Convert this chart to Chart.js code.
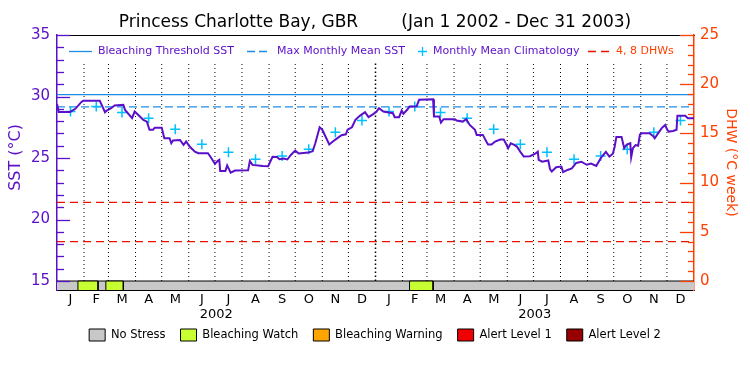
<!DOCTYPE html>
<html>
<head>
<meta charset="utf-8">
<script src="https://cdn.jsdelivr.net/npm/chart.js@4.4.1/dist/chart.umd.min.js"></script>
<style>
  html, body { margin: 0; padding: 0; background: #ffffff; }
  #wrap { width: 750px; height: 375px; }
</style>
</head>
<body>
<div id="wrap"><canvas id="chartSst" width="750" height="375"></canvas></div>
<script>
// ---- data ----
const monthLetters = ['J', 'F', 'M', 'A', 'M', 'J', 'J', 'A', 'S', 'O', 'N', 'D'];
const monthLengths = [31, 28, 31, 30, 31, 30, 31, 31, 30, 31, 30, 31];
const yearLabels = ['2002', '2003'];

// day number counted from Jan 1 2002
const sstDays = [0, 2, 15, 21, 28, 30, 49, 52, 55, 57, 62, 66, 76, 78, 86, 89, 95, 99, 103, 106,
  110, 112, 120, 123, 129, 131, 133, 141, 145, 148, 152, 158, 162, 173, 177, 181, 184, 186, 187, 193,
  195, 199, 204, 219, 221, 224, 236, 242, 247, 252, 255, 260, 264, 268, 273, 277, 288, 293, 296, 301,
  304, 312, 319, 326, 331, 333, 338, 342, 347, 353, 357, 362, 366, 369, 374, 385, 387, 392, 395, 397,
  401, 404, 412, 415, 431, 432, 438, 440, 443, 456, 458, 465, 469, 473, 479, 481, 488, 492, 494, 498,
  502, 508, 512, 515, 517, 520, 524, 527, 531, 535, 542, 548, 551, 552, 556, 563, 565, 567, 572, 578,
  580, 585, 590, 595, 601, 607, 612, 618, 624, 629, 633, 637, 639, 641, 647, 650, 653, 657, 658, 660,
  663, 666, 668, 670, 679, 683, 685, 689, 693, 697, 699, 701, 706, 710, 711, 720, 723, 730];
const sstValues = [29.40, 28.75, 28.75, 29.00, 29.56, 29.65, 29.65, 29.20, 28.72, 28.86, 29.05, 29.27, 29.32, 28.91, 28.24, 28.78, 28.37, 28.10, 27.96, 27.29,
  27.29, 27.47, 27.47, 26.61, 26.61, 26.20, 26.42, 26.47, 26.07, 26.34, 25.93, 25.52, 25.39, 25.39, 24.98, 24.52, 24.75, 24.85, 23.95, 23.95,
  24.40, 23.81, 23.98, 24.00, 24.75, 24.44, 24.36, 24.33, 25.10, 25.08, 24.90, 24.95, 24.88, 25.25, 25.60, 25.36, 25.44, 25.55, 26.20, 27.50,
  27.30, 26.10, 26.50, 26.85, 26.93, 27.30, 27.50, 28.10, 28.43, 28.73, 28.32, 28.55, 28.75, 29.05, 28.78, 28.64, 28.32, 28.32, 28.86, 28.60,
  28.90, 29.18, 29.18, 29.73, 29.78, 28.37, 28.37, 27.88, 28.16, 28.16, 28.05, 27.96, 28.16, 27.69, 27.29, 26.88, 26.88, 26.34, 26.10, 26.10,
  26.34, 26.50, 26.50, 26.10, 25.79, 26.20, 26.07, 25.93, 25.50, 25.12, 25.15, 25.35, 25.52, 24.85, 24.70, 24.80, 24.10, 23.90, 24.25, 24.30,
  23.85, 24.03, 24.15, 24.60, 24.70, 24.45, 24.55, 24.36, 25.08, 25.50, 25.12, 25.35, 25.90, 26.70, 26.70, 25.80, 26.10, 26.20, 25.06, 25.80,
  26.05, 26.00, 26.90, 27.02, 27.02, 26.80, 26.61, 27.02, 27.43, 27.69, 27.34, 27.15, 27.20, 27.30, 28.43, 28.43, 28.24, 28.24];

// monthly mean climatology, Jan..Dec
const climatology = [28.78, 29.18, 28.70, 28.24, 27.34, 26.12, 25.47, 24.90, 25.17, 25.72, 27.10, 28.04];
const maxMonthlyMean = 29.15;
const bleachingThreshold = 30.15;
const dhwLevels = [4, 8];

const stressNames = ['No Stress', 'Bleaching Watch', 'Bleaching Warning', 'Alert Level 1', 'Alert Level 2'];
const stressColors = ['#c8c8c8', '#c8ff32', '#ffa500', '#f00000', '#960000'];
// bleaching watch periods (day numbers)
const watchStart = [24, 56, 404];
const watchEnd = [47, 76, 431];

const sstTicks = [15, 20, 25, 30, 35];
const dhwTicks = [0, 5, 10, 15, 20, 25];

// ---- derived ----
const totalDays = 730;
const sstMin = 14.27, sstMax = 35;
const dhwMin = -0.915, dhwMax = 25;
const barTop = 15;
const gridTop = 32.7;

const purple = '#5a0fc8';
const orange = '#ff4000';
const blue = '#1e8ce6';
const cyan = '#00c0ff';
const red = '#ee1100';

const monthStarts = [];
const monthMids = [];
let day = 0;
for (let y = 0; y < yearLabels.length; y++) {
  monthLengths.forEach(len => {
    monthStarts.push(day);
    monthMids.push(day + len / 2);
    day += len;
  });
}
const yearMids = yearLabels.map((_, i) => 365 * i + 182.5);

const sstPoints = sstDays.map((d, i) => ({ x: d, y: sstValues[i] }));
const climPoints = monthMids.map((d, i) => ({ x: d, y: climatology[i % 12] }));

const monthLinePoints = [];
monthStarts.forEach(d => {
  if (d === 0 || d === 365) return;
  monthLinePoints.push({ x: d, y: barTop }, { x: d, y: gridTop }, { x: d, y: null });
});
const dhwLinePoints = [];
dhwLevels.forEach(v => {
  dhwLinePoints.push({ x: 0, y: v }, { x: totalDays, y: v }, { x: totalDays, y: null });
});

const watchSets = watchStart.map((s, i) => ({
  label: 'Bleaching Watch',
  data: [{ x: s, y: sstMin }, { x: s, y: barTop }, { x: watchEnd[i], y: barTop }, { x: watchEnd[i], y: sstMin }],
  yAxisID: 'y',
  fill: { value: sstMin },
  backgroundColor: stressColors[1],
  borderColor: '#000',
  borderWidth: 1,
  pointRadius: 0,
  order: 19
}));

// inward tick marks on both value axes
const innerTicks = {
  id: 'innerTicks',
  afterDatasetsDraw(chart) {
    const ctx = chart.ctx;
    const a = chart.chartArea;
    ctx.save();
    ctx.lineWidth = 1.3;
    const ys = chart.scales.y;
    ctx.strokeStyle = purple;
    for (let v = 15; v <= 35; v++) {
      const p = Math.round(ys.getPixelForValue(v)) + 0.5;
      const len = v % 5 === 0 ? 13 : 7;
      ctx.beginPath(); ctx.moveTo(a.left, p); ctx.lineTo(a.left + len, p); ctx.stroke();
    }
    const ys2 = chart.scales.y2;
    ctx.strokeStyle = orange;
    for (let v = 0; v <= 25; v++) {
      const p = Math.round(ys2.getPixelForValue(v)) + 0.5;
      const len = v % 5 === 0 ? 14 : 6;
      ctx.beginPath(); ctx.moveTo(a.right, p); ctx.lineTo(a.right - len, p); ctx.stroke();
    }
    ctx.restore();
  }
};

// key along the top of the plot
const topKey = {
  id: 'topKey',
  afterDatasetsDraw(chart) {
    const ctx = chart.ctx;
    const a = chart.chartArea;
    const y = a.top + 16.5;
    ctx.save();
    ctx.font = '11px "DejaVu Sans"';
    ctx.textBaseline = 'middle';
    ctx.lineWidth = 1.3;

    ctx.strokeStyle = blue;
    ctx.beginPath(); ctx.moveTo(a.left + 12, y); ctx.lineTo(a.left + 35, y); ctx.stroke();
    ctx.fillStyle = purple;
    ctx.fillText('Bleaching Threshold SST', a.left + 41, y);

    ctx.setLineDash([8, 4]);
    ctx.beginPath(); ctx.moveTo(a.left + 190, y); ctx.lineTo(a.left + 210, y); ctx.stroke();
    ctx.setLineDash([]);
    ctx.fillText('Max Monthly Mean SST', a.left + 220, y);

    ctx.strokeStyle = cyan;
    ctx.beginPath();
    ctx.moveTo(a.left + 361, y); ctx.lineTo(a.left + 370, y);
    ctx.moveTo(a.left + 365.5, y - 4.5); ctx.lineTo(a.left + 365.5, y + 4.5);
    ctx.stroke();
    ctx.fillText('Monthly Mean Climatology', a.left + 376, y);

    ctx.strokeStyle = red;
    ctx.setLineDash([8, 5]);
    ctx.beginPath(); ctx.moveTo(a.left + 531, y); ctx.lineTo(a.left + 555, y); ctx.stroke();
    ctx.setLineDash([]);
    ctx.fillStyle = orange;
    ctx.fillText('4, 8 DHWs', a.left + 559, y);
    ctx.restore();
  }
};

Chart.defaults.font.family = '"DejaVu Sans", sans-serif';

const ctx = document.getElementById('chartSst').getContext('2d');
new Chart(ctx, {
  type: 'line',
  data: {
    datasets: [
      {
        label: 'SST',
        data: sstPoints,
        yAxisID: 'y',
        borderColor: purple,
        borderWidth: 2,
        pointRadius: 0,
        tension: 0,
        order: 1
      },
      {
        label: 'Monthly Mean Climatology',
        data: climPoints,
        yAxisID: 'y',
        showLine: false,
        pointStyle: 'cross',
        pointRadius: 5,
        borderColor: cyan,
        backgroundColor: cyan,
        borderWidth: 1.5,
        order: 2
      },
      {
        label: 'Bleaching Threshold SST',
        data: [{ x: 0, y: bleachingThreshold }, { x: totalDays, y: bleachingThreshold }],
        yAxisID: 'y',
        borderColor: blue,
        borderWidth: 1.3,
        pointRadius: 0,
        order: 3
      },
      {
        label: 'Max Monthly Mean SST',
        data: [{ x: 0, y: maxMonthlyMean }, { x: totalDays, y: maxMonthlyMean }],
        yAxisID: 'y',
        borderColor: blue,
        borderWidth: 1.3,
        borderDash: [8, 4],
        pointRadius: 0,
        order: 4
      },
      {
        label: '4, 8 DHWs',
        data: dhwLinePoints,
        yAxisID: 'y2',
        borderColor: red,
        borderWidth: 1.3,
        borderDash: [8, 5],
        pointRadius: 0,
        spanGaps: false,
        order: 5
      },
      {
        label: 'months',
        data: monthLinePoints,
        yAxisID: 'y',
        borderColor: '#000',
        borderWidth: 1,
        borderDash: [1, 3],
        pointRadius: 0,
        spanGaps: false,
        order: 6
      },
      {
        label: 'year',
        data: [{ x: 365, y: barTop }, { x: 365, y: gridTop }],
        yAxisID: 'y',
        borderColor: '#000',
        borderWidth: 1.5,
        borderDash: [1.5, 2.5],
        pointRadius: 0,
        order: 7
      },
      ...watchSets,
      {
        label: 'No Stress',
        data: [{ x: 0, y: barTop }, { x: totalDays, y: barTop }],
        yAxisID: 'y',
        fill: { value: sstMin },
        backgroundColor: stressColors[0],
        borderColor: '#000',
        borderWidth: 1,
        pointRadius: 0,
        order: 20
      }
    ]
  },
  options: {
    responsive: false,
    animation: false,
    events: [],
    layout: { padding: { left: 0, right: 0, top: 0, bottom: 24 } },
    plugins: {
      title: {
        display: true,
        text: 'Princess Charlotte Bay, GBR        (Jan 1 2002 - Dec 31 2003)',
        color: '#000',
        font: { size: 17, weight: 'normal' },
        padding: { top: 12, bottom: 2.6 }
      },
      legend: {
        display: true,
        position: 'bottom',
        onClick: null,
        labels: {
          boxWidth: 16,
          boxHeight: 12,
          padding: 15,
          color: '#000',
          font: { size: 11.5 },
          generateLabels: () => stressNames.map((t, i) => ({
            text: t,
            fillStyle: stressColors[i],
            strokeStyle: '#000',
            lineWidth: 1,
            hidden: false,
            fontColor: '#000'
          }))
        }
      },
      tooltip: { enabled: false }
    },
    scales: {
      x: {
        type: 'linear',
        position: 'bottom',
        min: 0,
        max: totalDays,
        afterBuildTicks: s => { s.ticks = monthMids.map(v => ({ value: v })); },
        afterFit: s => { s.height = 17; },
        ticks: {
          autoSkip: false,
          maxRotation: 0,
          padding: 2,
          color: '#000',
          font: { size: 13 },
          callback: (v, i) => monthLetters[i % 12]
        },
        grid: { display: false, drawTicks: false },
        border: { display: true, color: '#000', width: 1 }
      },
      xYear: {
        type: 'linear',
        position: 'bottom',
        weight: 1,
        min: 0,
        max: totalDays,
        afterBuildTicks: s => { s.ticks = yearMids.map(v => ({ value: v })); },
        afterFit: s => { s.height = 7; },
        ticks: {
          autoSkip: false,
          maxRotation: 0,
          mirror: true,
          padding: -15.3,
          color: '#000',
          font: { size: 13 },
          callback: (v, i) => yearLabels[i]
        },
        grid: { display: false, drawTicks: false },
        border: { display: false }
      },
      xTop: {
        type: 'linear',
        position: 'top',
        min: 0,
        max: totalDays,
        afterFit: s => { s.height = 0; },
        ticks: { display: false },
        grid: { display: false, drawTicks: false },
        border: { display: true, color: '#000', width: 1 }
      },
      y: {
        type: 'linear',
        position: 'left',
        min: sstMin,
        max: sstMax,
        afterBuildTicks: s => { s.ticks = sstTicks.map(v => ({ value: v })); },
        afterFit: s => { s.width = 57; },
        ticks: { color: purple, font: { size: 15 }, padding: 7 },
        grid: { display: false, drawTicks: false },
        border: { display: true, color: purple, width: 1.5 },
        title: {
          display: true,
          text: '  SST (°C)',
          color: purple,
          font: { size: 16 },
          padding: { top: 6, bottom: 0 }
        }
      },
      y2: {
        type: 'linear',
        position: 'right',
        min: dhwMin,
        max: dhwMax,
        afterBuildTicks: s => { s.ticks = dhwTicks.map(v => ({ value: v })); },
        afterFit: s => { s.width = 56; },
        ticks: { color: orange, font: { size: 15 }, padding: 6 },
        grid: { display: false, drawTicks: false },
        border: { display: true, color: orange, width: 1.5 },
        title: {
          display: true,
          text: 'DHW (°C week)',
          color: orange,
          font: { size: 14 },
          padding: { top: 10.6, bottom: 0 }
        }
      }
    }
  },
  plugins: [innerTicks, topKey]
});
</script>
</body>
</html>
